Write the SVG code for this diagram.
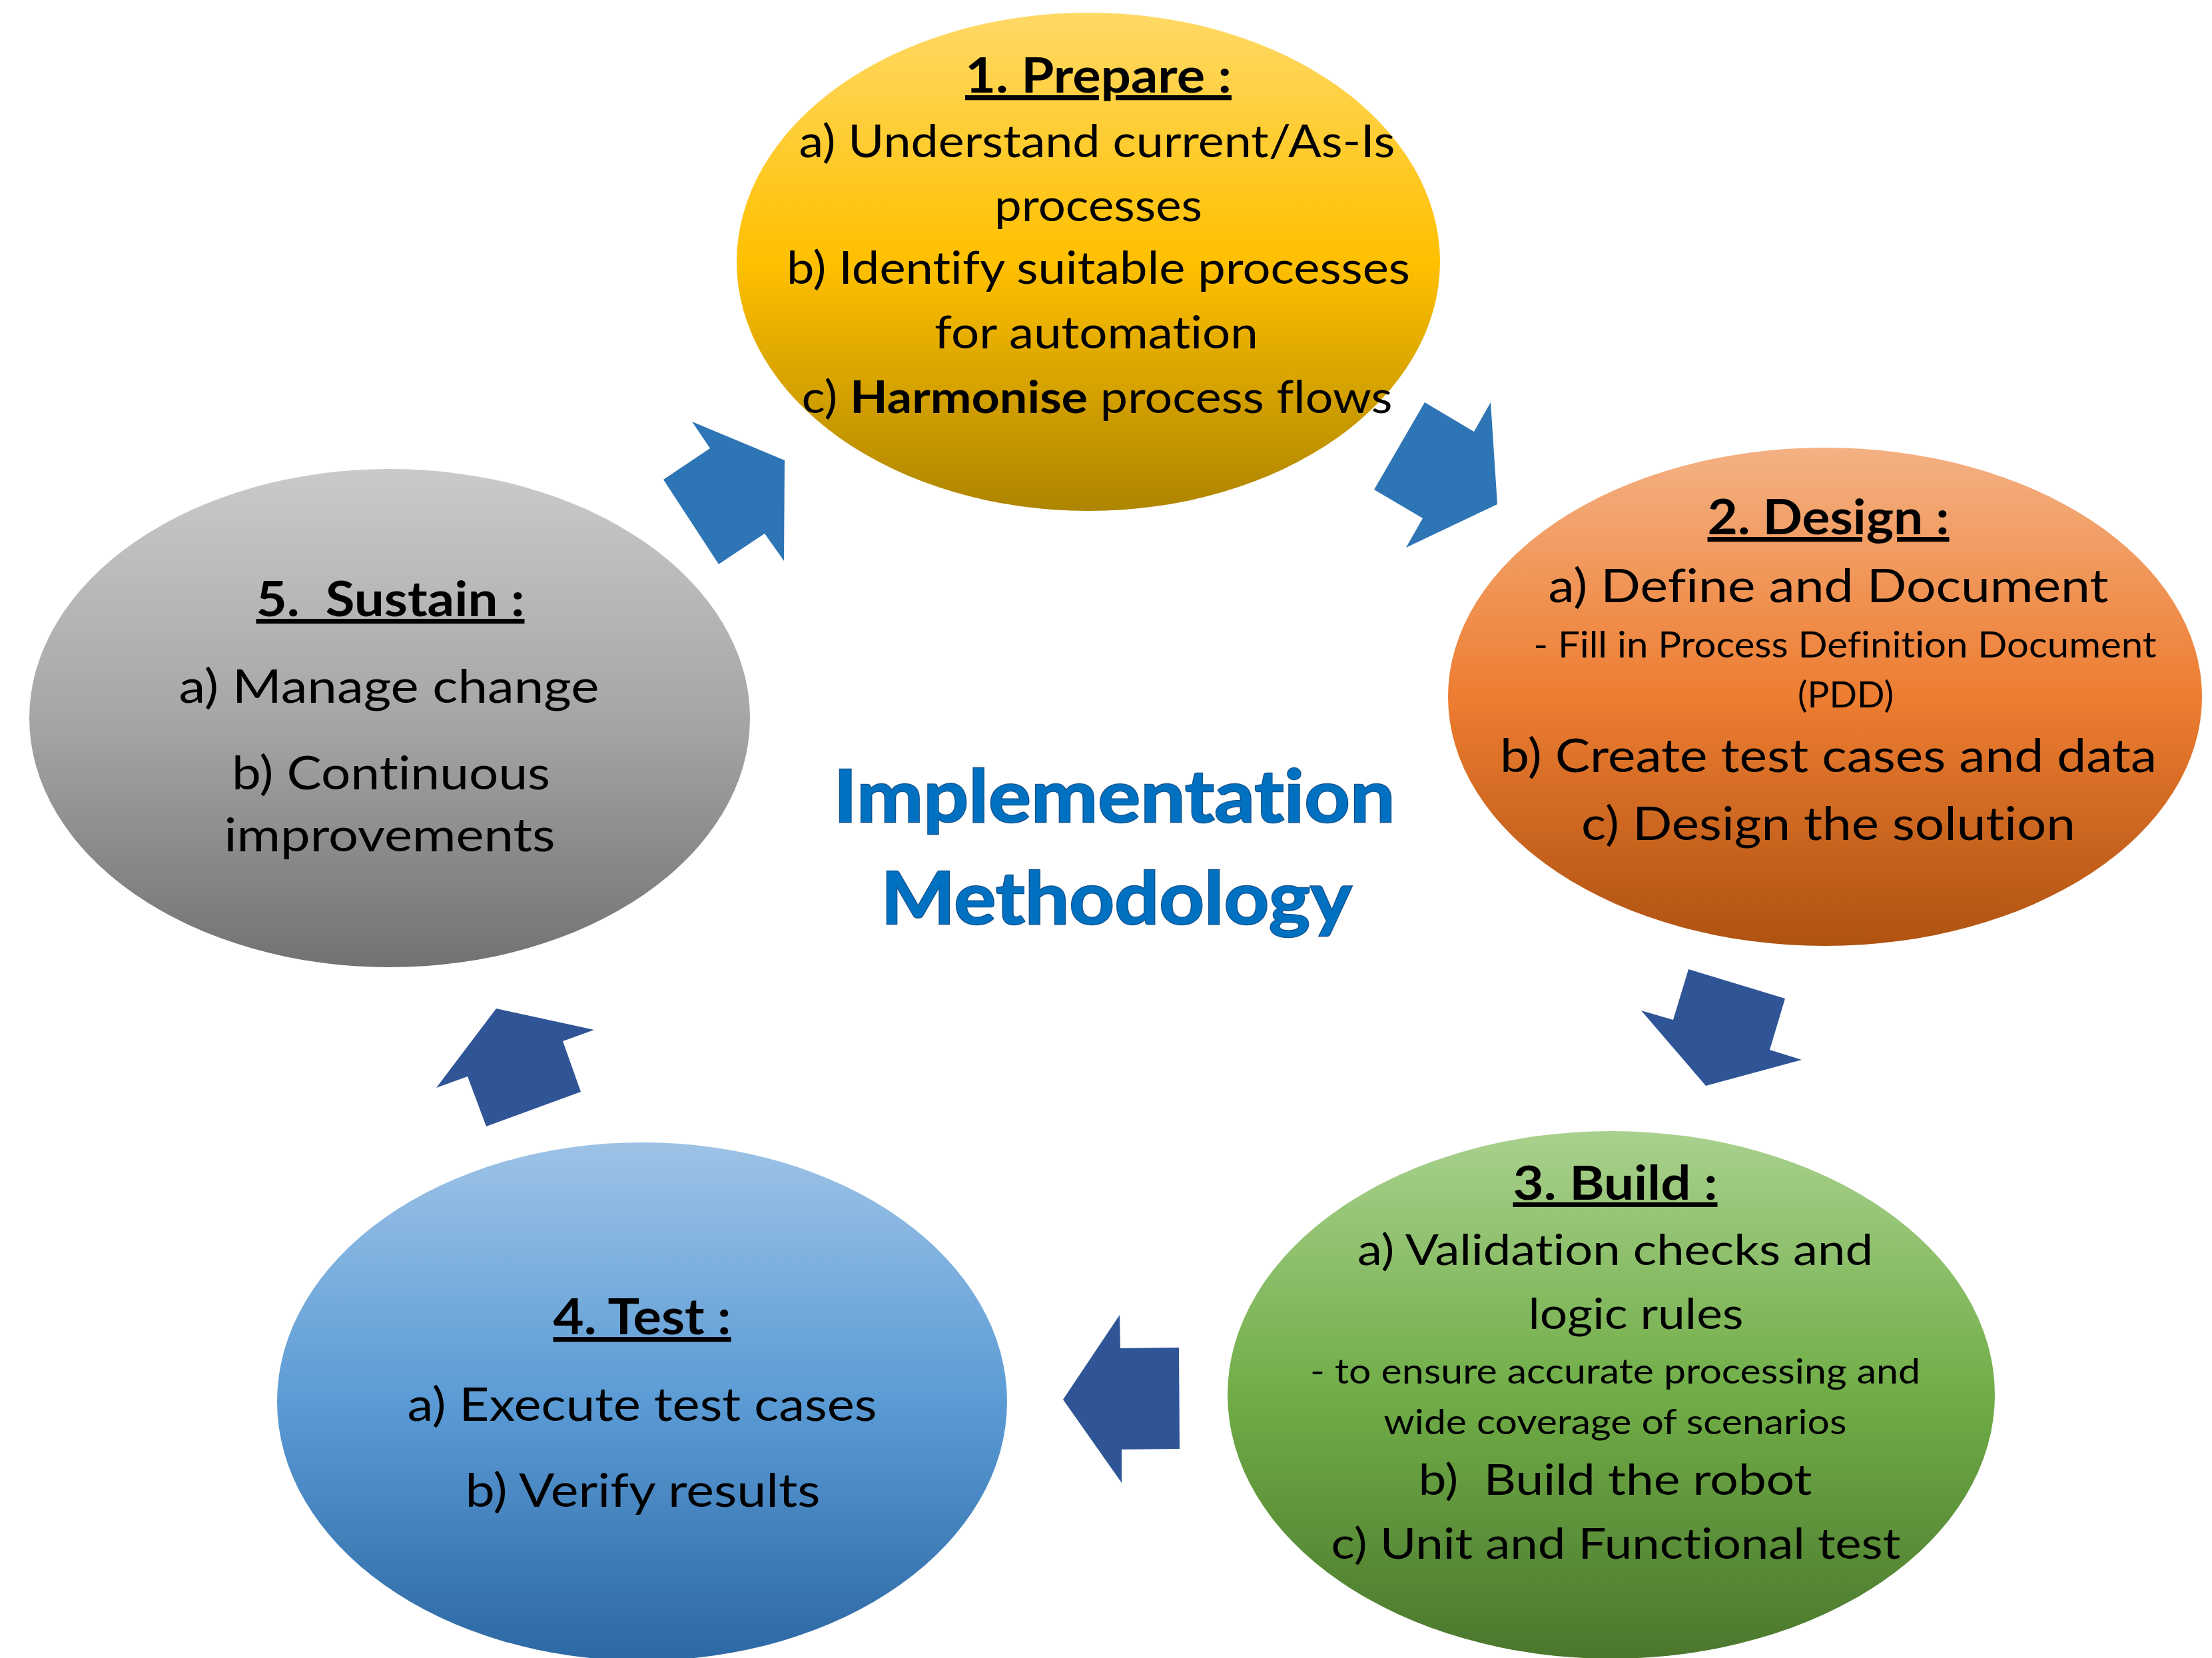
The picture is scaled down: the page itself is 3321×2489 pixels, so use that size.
<svg xmlns="http://www.w3.org/2000/svg" width="3321" height="2489" viewBox="0 0 3321 2489">
  <style>
    text { font-family: Lato, "Liberation Sans", sans-serif; fill: #000; text-anchor: middle; font-variant-ligatures: none; }
    .hd { font-weight: 700; text-decoration: underline; }
    .b { font-weight: 700; }
    .title { font-weight: 700; fill: #0070C0; stroke: #14528C; stroke-width: 2.5; paint-order: stroke; }
    .arrow-light { fill: #2E75B6; }
    .arrow-dark { fill: #2F5597; }
  </style>
  <defs>
    <linearGradient id="gPrepare" x1="0" y1="0" x2="0" y2="1">
      <stop offset="0" stop-color="#FFD966"/>
      <stop offset="0.5" stop-color="#FFC000"/>
      <stop offset="1" stop-color="#AE8500"/>
    </linearGradient>
    <linearGradient id="gDesign" x1="0" y1="0" x2="0" y2="1">
      <stop offset="0" stop-color="#F4B183"/>
      <stop offset="0.5" stop-color="#ED7D31"/>
      <stop offset="1" stop-color="#AF5211"/>
    </linearGradient>
    <linearGradient id="gBuild" x1="0" y1="0" x2="0" y2="1">
      <stop offset="0" stop-color="#A9D18E"/>
      <stop offset="0.5" stop-color="#70AD47"/>
      <stop offset="1" stop-color="#4B772D"/>
    </linearGradient>
    <linearGradient id="gTest" x1="0" y1="0" x2="0" y2="1">
      <stop offset="0" stop-color="#9DC3E6"/>
      <stop offset="0.5" stop-color="#5B9BD5"/>
      <stop offset="1" stop-color="#2C68A3"/>
    </linearGradient>
    <linearGradient id="gSustain" x1="0" y1="0" x2="0" y2="1">
      <stop offset="0" stop-color="#CACACA"/>
      <stop offset="0.5" stop-color="#A6A6A6"/>
      <stop offset="1" stop-color="#727272"/>
    </linearGradient>
  </defs>

  <rect width="3321" height="2489" fill="#FFFFFF"/>

  <!-- Phase 1 -->
  <g id="node-prepare">
    <ellipse cx="1634" cy="393" rx="528" ry="374" fill="url(#gPrepare)"/>
    <text class="hd" x="1649" y="139" font-size="73" textLength="400" lengthAdjust="spacingAndGlyphs">1. Prepare :</text>
    <text x="1647" y="236" font-size="67" textLength="895" lengthAdjust="spacingAndGlyphs">a) Understand current/As-Is</text>
    <text x="1649" y="332" font-size="67" textLength="312" lengthAdjust="spacingAndGlyphs">processes</text>
    <text x="1649" y="426" font-size="67" textLength="936" lengthAdjust="spacingAndGlyphs">b) Identify suitable processes</text>
    <text x="1646" y="523" font-size="67" textLength="486" lengthAdjust="spacingAndGlyphs">for automation</text>
    <text x="1647" y="620" font-size="67" textLength="887" lengthAdjust="spacingAndGlyphs">c) <tspan class="b">Harmonise</tspan> process flows</text>
  </g>

  <!-- Phase 2 -->
  <g id="node-design">
    <ellipse cx="2740" cy="1046" rx="566" ry="374" fill="url(#gDesign)"/>
    <text class="hd" x="2745" y="802" font-size="73" textLength="363" lengthAdjust="spacingAndGlyphs">2. Design :</text>
    <text x="2745" y="904" font-size="69" textLength="841" lengthAdjust="spacingAndGlyphs">a) Define and Document</text>
    <text x="2770" y="987" font-size="54" textLength="935" lengthAdjust="spacingAndGlyphs">- Fill in Process Definition Document</text>
    <text x="2771" y="1062" font-size="54" textLength="144" lengthAdjust="spacingAndGlyphs">(PDD)</text>
    <text x="2745" y="1159" font-size="69" textLength="986" lengthAdjust="spacingAndGlyphs">b) Create test cases and data</text>
    <text x="2745" y="1261" font-size="69" textLength="742" lengthAdjust="spacingAndGlyphs">c) Design the solution</text>
  </g>

  <!-- Phase 3 -->
  <g id="node-build">
    <ellipse cx="2419" cy="2094" rx="576" ry="396" fill="url(#gBuild)"/>
    <text class="hd" x="2425" y="1801" font-size="70" textLength="307" lengthAdjust="spacingAndGlyphs">3. Build :</text>
    <text x="2425" y="1899" font-size="63" textLength="774" lengthAdjust="spacingAndGlyphs">a) Validation checks and</text>
    <text x="2456" y="1995" font-size="63" textLength="323" lengthAdjust="spacingAndGlyphs">logic rules</text>
    <text x="2425" y="2077" font-size="52" textLength="916" lengthAdjust="spacingAndGlyphs">- to ensure accurate processing and</text>
    <text x="2425" y="2153" font-size="52" textLength="695" lengthAdjust="spacingAndGlyphs">wide coverage of scenarios</text>
    <text x="2425" y="2244" font-size="63" textLength="591" lengthAdjust="spacingAndGlyphs" xml:space="preserve">b)  Build the robot</text>
    <text x="2426" y="2340" font-size="63" textLength="855" lengthAdjust="spacingAndGlyphs">c) Unit and Functional test</text>
  </g>

  <!-- Phase 4 -->
  <g id="node-test">
    <ellipse cx="964" cy="2104" rx="548" ry="389" fill="url(#gTest)"/>
    <text class="hd" x="964" y="2003" font-size="74" textLength="267" lengthAdjust="spacingAndGlyphs">4. Test :</text>
    <text x="964" y="2133" font-size="70" textLength="705" lengthAdjust="spacingAndGlyphs">a) Execute test cases</text>
    <text x="965" y="2262" font-size="70" textLength="533" lengthAdjust="spacingAndGlyphs">b) Verify results</text>
  </g>

  <!-- Phase 5 -->
  <g id="node-sustain">
    <ellipse cx="585" cy="1078" rx="541" ry="374" fill="url(#gSustain)"/>
    <text class="hd" x="586" y="925" font-size="73" textLength="403" lengthAdjust="spacingAndGlyphs" xml:space="preserve">5.  Sustain :</text>
    <text x="584" y="1055" font-size="70" textLength="631" lengthAdjust="spacingAndGlyphs">a) Manage change</text>
    <text x="587" y="1185" font-size="70" textLength="478" lengthAdjust="spacingAndGlyphs">b) Continuous</text>
    <text x="585" y="1278" font-size="70" textLength="497" lengthAdjust="spacingAndGlyphs">improvements</text>
  </g>

  <!-- Centre title -->
  <g id="title">
    <text class="title" x="1673" y="1234" font-size="110" textLength="843" lengthAdjust="spacingAndGlyphs">Implementation</text>
    <text class="title" x="1676" y="1387" font-size="110" textLength="707" lengthAdjust="spacingAndGlyphs">Methodology</text>
  </g>

  <!-- Block arrows between phases -->
  <g id="connectors">
    <polygon id="arrow-prepare-design" class="arrow-light" points="2139,604 2213,648 2238,604 2248,757 2111,822 2136,778 2063,735"/>
    <polygon id="arrow-design-build" class="arrow-dark" points="2535,1455 2680,1499 2657,1576 2705,1591 2561,1630 2464,1517 2512,1531"/>
    <polygon id="arrow-build-test" class="arrow-dark" points="1770,2023 1682,2024 1681,1974 1596,2101 1684,2226 1684,2176 1771,2175"/>
    <polygon id="arrow-test-sustain" class="arrow-dark" points="745,1514 892,1546 845,1563 872,1639 730,1691 702,1616 655,1633"/>
    <polygon id="arrow-sustain-prepare" class="arrow-light" points="1039,633 1066,673 996,720 1079,847 1148,801 1177,842 1178,691"/>
  </g>
</svg>
